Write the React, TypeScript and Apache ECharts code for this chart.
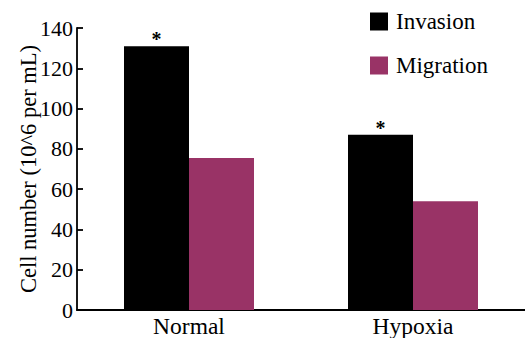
import React, { useEffect, useRef } from "react";
import * as echarts from "echarts";

const categories = ["Normal", "Hypoxia"];
const invasion = [131, 87];
const migration = [75.5, 54];
const yTicks = { min: 0, max: 140, interval: 20 };
const seriesNames = ["Invasion", "Migration"];
const significance = ["*", "*"];

const FONT = "'Liberation Serif', 'DejaVu Serif', serif";

export default function App() {
  const ref = useRef<HTMLDivElement>(null);
  useEffect(() => {
    document.body.style.margin = "0";
    const chart = echarts.init(ref.current!, null, { renderer: "svg" });
    chart.setOption({
      animation: false,
      backgroundColor: "#ffffff",
      textStyle: { fontFamily: FONT, color: "#000" },
      grid: { left: 77, top: 28, width: 450, bottom: 27, containLabel: false },
      legend: {
        orient: "vertical",
        left: 370,
        top: 10,
        padding: 0,
        itemWidth: 18,
        itemHeight: 18,
        itemGap: 21,
        icon: "rect",
        data: seriesNames,
        textStyle: {
          fontFamily: FONT,
          fontSize: 23,
          color: "#000",
          lineHeight: 18,
          padding: [0, 0, 0, 3],
        },
      },
      xAxis: {
        type: "category",
        data: categories,
        axisLine: { lineStyle: { color: "#000", width: 1.8 } },
        axisTick: { inside: true, length: 6, lineStyle: { color: "#000", width: 1.8 } },
        axisLabel: { fontFamily: FONT, fontSize: 23.5, color: "#000", margin: 4 },
      },
      yAxis: {
        type: "value",
        min: yTicks.min,
        max: yTicks.max,
        interval: yTicks.interval,
        name: "Cell number (10^6 per mL)",
        nameLocation: "middle",
        nameGap: 37,
        nameMoveOverlap: false,
        nameTextStyle: { fontFamily: FONT, fontSize: 22.5, color: "#000" },
        splitLine: { show: false },
        axisLine: { show: true, lineStyle: { color: "#000", width: 1.8 } },
        axisTick: { show: true, inside: true, length: 6, lineStyle: { color: "#000", width: 1.8 } },
        axisLabel: { fontFamily: FONT, fontSize: 22, color: "#000", margin: 4 },
      },
      series: [
        {
          name: seriesNames[0],
          type: "bar",
          data: invasion,
          barWidth: 65,
          barGap: "0%",
          itemStyle: { color: "#000000" },
          label: {
            show: true,
            position: "top",
            distance: -3,
            formatter: (p: any) => significance[p.dataIndex],
            fontFamily: FONT,
            fontSize: 20,
            fontWeight: "bold",
            color: "#000",
          },
        },
        {
          name: seriesNames[1],
          type: "bar",
          data: migration,
          barWidth: 65,
          barGap: "0%",
          itemStyle: { color: "#993366" },
        },
      ],
    });
    return () => chart.dispose();
  }, []);
  return <div ref={ref} style={{ width: 525, height: 338 }} />;
}
